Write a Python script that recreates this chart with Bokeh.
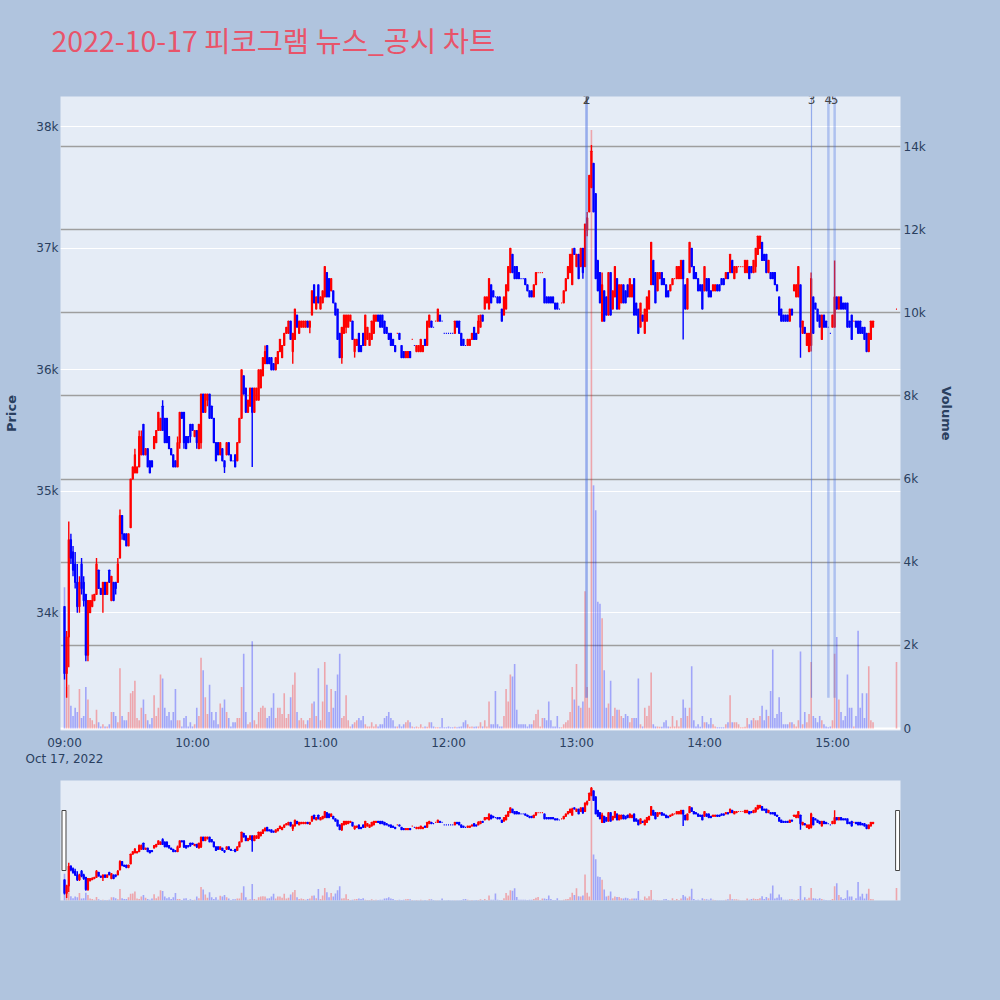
import pandas as pd
from bokeh.plotting import figure
from bokeh.models import (ColumnDataSource, Range1d, LinearAxis, FixedTicker, Grid,
                          DatetimeTickFormatter, Label, Title)
from bokeh.layouts import column
from bokeh.embed import file_html
from bokeh.resources import INLINE

# ------------------------------------------------------------------ data
chart_title = "2022-10-17 피코그램 뉴스_공시 차트"
session_start = "2022-10-17 09:00"      # first 1-minute candle
closing_auction = "2022-10-17 15:30"    # single closing-auction candle
date_label = "Oct 17, 2022"

open_ = [
    34050, 33500, 33800, 34600, 34500, 34400, 34250, 34050, 34400, 34250,
    34150, 33650, 34000, 34050, 34100, 34150, 34350, 34200, 34150, 34250,
    34150, 34350, 34100, 34250, 34250, 34250, 34450, 34800, 34650, 34650,
    34550, 34700, 35100, 35150, 35150, 35200, 35300, 35550, 35300, 35350,
    35250, 35250, 35350, 35400, 35500, 35500, 35700, 35600, 35600, 35450,
    35350, 35300, 35250, 35200, 35400, 35650, 35650, 35450, 35450, 35550,
    35550, 35450, 35500, 35350, 35400, 35800, 35650, 35750, 35800, 35700,
    35600, 35400, 35400, 35300, 35350, 35250, 35300, 35400, 35300, 35250,
    35300, 35250, 35400, 35600, 35950, 35850, 35650, 35700, 35850, 35650,
    35750, 35750, 35850, 35950, 36050, 36200, 36100, 36100, 36050, 36000,
    36050, 36150, 36100, 36200, 36300, 36300, 36400, 36150, 36250, 36450,
    36300, 36350, 36350, 36350, 36400, 36350, 36450, 36700, 36500, 36700,
    36500, 36550, 36600, 36800, 36750, 36650, 36650, 36550, 36500, 36300,
    36100, 36300, 36350, 36350, 36400, 36400, 36150, 36200, 36300, 36200,
    36300, 36200, 36250, 36200, 36250, 36300, 36400, 36450, 36450, 36450,
    36400, 36350, 36300, 36300, 36250, 36200, 36300, 36300, 36200, 36150,
    36100, 36100, 36150, 36250, 36200, 36150, 36150, 36150, 36150, 36250,
    36200, 36350, 36400, 36350, 36400, 36400, 36450, 36400, 36300, 36300,
    36300, 36300, 36300, 36300, 36400, 36400, 36300, 36250, 36200, 36200,
    36200, 36250, 36350, 36300, 36300, 36350, 36450, 36500, 36550, 36500,
    36700, 36650, 36600, 36600, 36600, 36500, 36450, 36500, 36650, 36800,
    36950, 36850, 36850, 36800, 36750, 36750, 36750, 36700, 36650, 36650,
    36600, 36700, 36800, 36800, 36800, 36750, 36600, 36600, 36600, 36600,
    36550, 36550, 36500, 36550, 36550, 36650, 36750, 36800, 36700, 37000,
    36850, 36950, 36850, 37000, 36850, 37150, 37300, 37500, 37700, 37450,
    36900, 36800, 36400, 36650, 36600, 36450, 36800, 36500, 36600, 36750,
    36500, 36550, 36700, 36650, 36700, 36600, 36600, 36750, 36550, 36500,
    36350, 36450, 36300, 36400, 36500, 36700, 36900, 36800, 36650, 36750,
    36800, 36750, 36700, 36650, 36650, 36700, 36750, 36750, 36750, 36750,
    36900, 36700, 36500, 36800, 37000, 36850, 36800, 36750, 36700, 36700,
    36650, 36750, 36750, 36650, 36650, 36650, 36700, 36700, 36750, 36750,
    36750, 36800, 36800, 36900, 36750, 36800, 36850, 36850, 36850, 36800,
    36800, 36850, 36850, 36800, 36850, 36950, 37000, 37050, 36950, 36950,
    36800, 36800, 36800, 36800, 36700, 36600, 36500, 36450, 36450, 36450,
    36400, 36500, 36650, 36600, 36600, 36700, 36300, 36350, 36200, 36150,
    36200, 36600, 36550, 36500, 36450, 36250, 36450, 36400, 36350, 36300,
    36350, 36350, 36600, 36500, 36600, 36550, 36550, 36550, 36400, 36450,
    36400, 36400, 36400, 36400, 36350, 36350, 36300, 36150, 36250, 36350,
    36500,
]
high = [
    34050, 33850, 34750, 34650, 34550, 34500, 34400, 34300, 34450, 34300,
    34150, 34100, 34100, 34150, 34150, 34450, 34350, 34200, 34250, 34250,
    34250, 34350, 34300, 34250, 34250, 34450, 34850, 34800, 34650, 34650,
    34650, 35100, 35200, 35350, 35200, 35500, 35500, 35550, 35350, 35350,
    35250, 35250, 35450, 35500, 35650, 35600, 35750, 35600, 35600, 35450,
    35350, 35300, 35250, 35450, 35650, 35650, 35650, 35450, 35450, 35550,
    35550, 35500, 35500, 35550, 35800, 35800, 35800, 35800, 35800, 35700,
    35600, 35400, 35400, 35400, 35350, 35250, 35400, 35400, 35300, 35250,
    35300, 35400, 35600, 36000, 35950, 35850, 35750, 35850, 35850, 35850,
    35850, 36000, 36000, 36100, 36200, 36200, 36100, 36100, 36050, 36100,
    36150, 36250, 36200, 36300, 36350, 36400, 36400, 36300, 36500, 36450,
    36400, 36400, 36400, 36400, 36400, 36400, 36650, 36700, 36600, 36700,
    36600, 36650, 36850, 36800, 36750, 36750, 36650, 36550, 36500, 36300,
    36350, 36450, 36450, 36450, 36450, 36400, 36250, 36250, 36300, 36200,
    36300, 36450, 36350, 36300, 36400, 36450, 36450, 36450, 36450, 36450,
    36400, 36350, 36300, 36300, 36250, 36200, 36300, 36300, 36200, 36150,
    36150, 36150, 36150, 36250, 36200, 36200, 36200, 36250, 36200, 36250,
    36400, 36450, 36400, 36350, 36400, 36500, 36450, 36400, 36300, 36300,
    36300, 36300, 36300, 36400, 36400, 36400, 36300, 36250, 36200, 36250,
    36250, 36300, 36350, 36300, 36450, 36450, 36450, 36600, 36600, 36750,
    36700, 36650, 36600, 36600, 36600, 36500, 36600, 36700, 36850, 37000,
    36950, 36850, 36850, 36800, 36750, 36750, 36750, 36700, 36650, 36650,
    36700, 36800, 36800, 36800, 36800, 36750, 36600, 36600, 36600, 36600,
    36550, 36550, 36500, 36550, 36650, 36750, 36850, 36950, 37000, 37000,
    36950, 36950, 37000, 37000, 37200, 37300, 37600, 37850, 37700, 37450,
    36900, 36800, 36800, 36650, 36600, 36800, 36800, 36650, 36850, 36750,
    36700, 36700, 36700, 36650, 36700, 36750, 36700, 36750, 36550, 36500,
    36550, 36450, 36500, 36600, 36650, 37050, 36900, 36800, 36800, 36800,
    36800, 36750, 36700, 36650, 36700, 36750, 36750, 36850, 36850, 36900,
    36900, 36700, 36750, 37050, 37000, 36850, 36800, 36750, 36700, 36700,
    36850, 36750, 36750, 36650, 36700, 36700, 36700, 36700, 36750, 36750,
    36800, 36800, 36950, 36900, 36850, 36850, 36850, 36850, 36850, 36900,
    36900, 36850, 36850, 36900, 37000, 37100, 37100, 37050, 36950, 36950,
    36900, 36800, 36800, 36800, 36700, 36600, 36500, 36450, 36450, 36450,
    36500, 36500, 36700, 36700, 36850, 36700, 36400, 36350, 36300, 36300,
    36800, 36600, 36550, 36500, 36450, 36450, 36450, 36400, 36350, 36300,
    36450, 36900, 36600, 36600, 36600, 36550, 36550, 36550, 36400, 36450,
    36400, 36400, 36400, 36400, 36350, 36350, 36300, 36300, 36400, 36400,
    36500,
]
low = [
    33450, 33300, 33550, 34400, 34300, 34200, 34000, 34000, 34150, 34050,
    33600, 33600, 34000, 34050, 34100, 34150, 34200, 34150, 34000, 34150,
    34150, 34250, 34100, 34100, 34150, 34250, 34450, 34600, 34600, 34550,
    34550, 34700, 35100, 35150, 35150, 35200, 35300, 35300, 35300, 35200,
    35150, 35200, 35350, 35400, 35500, 35500, 35500, 35400, 35400, 35350,
    35300, 35200, 35200, 35200, 35350, 35600, 35350, 35350, 35400, 35400,
    35500, 35450, 35350, 35350, 35350, 35650, 35650, 35700, 35600, 35600,
    35400, 35250, 35300, 35300, 35250, 35150, 35300, 35300, 35250, 35250,
    35200, 35250, 35400, 35600, 35800, 35650, 35650, 35700, 35200, 35650,
    35750, 35750, 35850, 35950, 36050, 36050, 36050, 36000, 36000, 36000,
    36050, 36150, 36100, 36200, 36300, 36300, 36250, 36050, 36250, 36350,
    36300, 36350, 36350, 36350, 36350, 36300, 36450, 36550, 36500, 36550,
    36500, 36550, 36600, 36600, 36600, 36650, 36550, 36450, 36250, 36100,
    36050, 36300, 36300, 36350, 36400, 36250, 36100, 36200, 36150, 36150,
    36200, 36200, 36250, 36200, 36250, 36300, 36400, 36400, 36350, 36350,
    36300, 36300, 36250, 36200, 36200, 36150, 36300, 36250, 36100, 36100,
    36100, 36100, 36100, 36250, 36200, 36150, 36150, 36150, 36150, 36200,
    36200, 36350, 36350, 36350, 36400, 36400, 36400, 36400, 36300, 36300,
    36300, 36300, 36300, 36300, 36350, 36300, 36200, 36200, 36200, 36200,
    36200, 36250, 36250, 36250, 36300, 36350, 36400, 36500, 36550, 36500,
    36550, 36600, 36600, 36550, 36550, 36400, 36450, 36500, 36650, 36800,
    36800, 36750, 36750, 36750, 36750, 36750, 36700, 36650, 36600, 36600,
    36600, 36700, 36800, 36800, 36800, 36550, 36550, 36550, 36550, 36550,
    36500, 36500, 36500, 36550, 36550, 36650, 36750, 36800, 36700, 36950,
    36850, 36750, 36850, 36750, 36850, 37100, 37300, 37500, 37300, 36750,
    36650, 36550, 36400, 36400, 36450, 36450, 36450, 36500, 36600, 36500,
    36500, 36550, 36550, 36550, 36600, 36600, 36600, 36450, 36450, 36300,
    36350, 36400, 36300, 36400, 36500, 36700, 36700, 36550, 36650, 36750,
    36700, 36700, 36600, 36600, 36650, 36700, 36750, 36750, 36750, 36750,
    36250, 36500, 36500, 36800, 36850, 36750, 36750, 36650, 36650, 36500,
    36650, 36650, 36600, 36600, 36650, 36650, 36650, 36650, 36700, 36700,
    36750, 36750, 36800, 36800, 36750, 36800, 36850, 36850, 36850, 36800,
    36800, 36750, 36800, 36800, 36800, 36950, 37000, 36900, 36900, 36800,
    36800, 36750, 36750, 36700, 36650, 36450, 36400, 36400, 36400, 36400,
    36400, 36450, 36650, 36600, 36600, 36100, 36300, 36300, 36200, 36150,
    36150, 36300, 36500, 36400, 36350, 36250, 36350, 36350, 36350, 36300,
    36350, 36350, 36500, 36500, 36500, 36500, 36500, 36350, 36350, 36250,
    36400, 36350, 36300, 36300, 36300, 36250, 36150, 36150, 36250, 36350,
    36500,
]
close = [
    33500, 33800, 34600, 34450, 34350, 34250, 34050, 34250, 34200, 34100,
    33650, 34100, 34100, 34100, 34150, 34400, 34200, 34150, 34250, 34150,
    34250, 34250, 34300, 34100, 34200, 34400, 34800, 34650, 34600, 34550,
    34650, 35100, 35200, 35300, 35200, 35450, 35450, 35300, 35350, 35200,
    35150, 35200, 35450, 35500, 35650, 35600, 35500, 35400, 35400, 35350,
    35300, 35200, 35200, 35400, 35650, 35600, 35400, 35350, 35400, 35450,
    35500, 35500, 35400, 35550, 35800, 35650, 35800, 35800, 35600, 35600,
    35400, 35250, 35300, 35400, 35250, 35200, 35400, 35300, 35250, 35250,
    35200, 35400, 35600, 36000, 35800, 35650, 35750, 35850, 35650, 35850,
    35850, 36000, 36000, 36100, 36150, 36050, 36050, 36000, 36000, 36100,
    36150, 36250, 36200, 36300, 36350, 36400, 36250, 36300, 36500, 36350,
    36400, 36400, 36400, 36400, 36350, 36400, 36650, 36550, 36600, 36550,
    36600, 36650, 36850, 36600, 36600, 36750, 36550, 36450, 36250, 36100,
    36350, 36450, 36450, 36450, 36450, 36250, 36250, 36250, 36150, 36150,
    36200, 36450, 36350, 36300, 36400, 36450, 36450, 36400, 36350, 36350,
    36300, 36300, 36250, 36200, 36200, 36150, 36300, 36250, 36100, 36100,
    36150, 36150, 36100, 36250, 36200, 36200, 36200, 36250, 36200, 36200,
    36400, 36450, 36350, 36350, 36400, 36500, 36400, 36400, 36300, 36300,
    36300, 36300, 36300, 36400, 36350, 36300, 36200, 36200, 36200, 36250,
    36250, 36300, 36250, 36250, 36400, 36450, 36400, 36600, 36600, 36750,
    36550, 36600, 36600, 36550, 36550, 36400, 36600, 36700, 36850, 37000,
    36800, 36750, 36750, 36750, 36750, 36750, 36700, 36650, 36600, 36600,
    36700, 36800, 36800, 36800, 36800, 36550, 36550, 36550, 36550, 36550,
    36500, 36500, 36500, 36550, 36650, 36750, 36850, 36950, 36950, 36950,
    36950, 36750, 37000, 36800, 37200, 37250, 37600, 37800, 37300, 36750,
    36650, 36550, 36700, 36400, 36450, 36800, 36450, 36650, 36850, 36500,
    36700, 36700, 36550, 36550, 36600, 36750, 36700, 36450, 36450, 36300,
    36550, 36400, 36500, 36600, 36650, 37050, 36700, 36550, 36800, 36800,
    36700, 36700, 36600, 36600, 36700, 36750, 36750, 36850, 36850, 36900,
    36750, 36500, 36750, 37050, 36850, 36750, 36750, 36650, 36650, 36500,
    36850, 36650, 36600, 36600, 36700, 36700, 36650, 36650, 36700, 36700,
    36800, 36750, 36950, 36800, 36850, 36850, 36850, 36850, 36850, 36900,
    36900, 36750, 36800, 36900, 37000, 37100, 37100, 36900, 36900, 36800,
    36900, 36750, 36750, 36700, 36650, 36450, 36400, 36400, 36400, 36400,
    36500, 36450, 36700, 36700, 36850, 36350, 36400, 36300, 36300, 36300,
    36750, 36300, 36500, 36400, 36350, 36450, 36350, 36350, 36350, 36300,
    36450, 36600, 36500, 36600, 36500, 36500, 36500, 36350, 36350, 36250,
    36400, 36350, 36300, 36300, 36300, 36250, 36150, 36300, 36400, 36400,
    36500,
]
volume = [
    3400, 1000, 1050, 550, 300, 500, 400, 950, 250, 300,
    1000, 700, 250, 200, 100, 450, 150, 50, 100, 50,
    50, 100, 400, 400, 300, 150, 1450, 300, 200, 200,
    400, 850, 900, 1150, 250, 200, 500, 700, 350, 200,
    100, 250, 800, 300, 500, 1300, 1200, 500, 300, 400,
    200, 400, 950, 200, 200, 50, 250, 300, 50, 150,
    50, 100, 500, 300, 1700, 1400, 750, 350, 1050, 400,
    200, 400, 100, 600, 500, 700, 400, 250, 50, 150,
    150, 250, 250, 1000, 1800, 400, 100, 150, 2100, 200,
    100, 400, 500, 550, 500, 250, 300, 500, 850, 250,
    500, 500, 350, 850, 250, 350, 750, 1050, 1350, 400,
    200, 250, 200, 100, 200, 250, 600, 650, 300, 1450,
    200, 650, 1600, 1050, 400, 950, 500, 900, 1300, 1800,
    250, 300, 800, 200, 50, 100, 150, 200, 250, 200,
    300, 100, 50, 50, 150, 50, 100, 50, 100, 100,
    250, 300, 400, 250, 200, 50, 50, 100, 50, 100,
    150, 200, 150, 50, 30, 50, 30, 100, 30, 50,
    40, 150, 150, 50, 30, 30, 30, 250, 30, 30,
    50, 30, 30, 40, 30, 40, 50, 150, 200, 100,
    40, 50, 40, 50, 50, 150, 50, 200, 50, 650,
    100, 100, 900, 100, 50, 50, 300, 950, 650, 1300,
    1250, 1550, 450, 100, 100, 100, 100, 50, 100, 100,
    200, 350, 450, 50, 250, 250, 200, 650, 200, 50,
    50, 300, 30, 30, 100, 150, 200, 400, 1000, 700,
    1550, 550, 500, 650, 3300, 1000, 500, 14400, 5850, 5250,
    3050, 3000, 2650, 1400, 500, 600, 1150, 300, 500, 450,
    450, 300, 250, 350, 300, 150, 250, 250, 250, 1200,
    100, 50, 500, 300, 550, 1350, 100, 50, 50, 40,
    40, 150, 200, 50, 40, 300, 50, 200, 50, 250,
    700, 500, 300, 500, 1500, 200, 50, 100, 40, 300,
    150, 150, 100, 250, 100, 50, 30, 30, 30, 30,
    100, 150, 800, 150, 150, 150, 100, 30, 30, 40,
    250, 100, 200, 250, 200, 200, 300, 550, 200, 450,
    300, 900, 1900, 250, 350, 750, 400, 100, 100, 100,
    150, 150, 100, 50, 200, 1850, 100, 400, 150, 350,
    1600, 300, 250, 150, 300, 200, 100, 50, 30, 50,
    200, 1800, 2200, 700, 400, 200, 300, 1300, 500, 500,
    50, 300, 2350, 500, 850, 250, 850, 1500, 200, 150,
    1600,
]

news_times = ["2022-10-17 13:04:40", "2022-10-17 13:04:45", "2022-10-17 14:50:10",
              "2022-10-17 14:58:05", "2022-10-17 15:01:00"]
news_labels = ["1", "2", "3", "4", "5"]

price_ticks = [34000, 35000, 36000, 37000, 38000]
price_tick_labels = ["34k", "35k", "36k", "37k", "38k"]
volume_ticks = [0, 2000, 4000, 6000, 8000, 10000, 12000, 14000]
volume_tick_labels = ["0", "2k", "4k", "6k", "8k", "10k", "12k", "14k"]
hour_ticks = ["09:00", "10:00", "11:00", "12:00", "13:00", "14:00", "15:00"]

# ------------------------------------------------------------------ helpers
MIN = 60000.0
def to_ms(s):
    return pd.Timestamp(s).value / 1e6

t0 = to_ms(session_start)
times = [t0 + i * MIN for i in range(len(open_) - 1)] + [to_ms(closing_auction)]

INC, DEC = "#ff0000", "#0000ff"
colors = []
prev_c, prev_col = None, DEC
for o, c in zip(open_, close):
    if c > o:
        col = INC
    elif c < o:
        col = DEC
    elif prev_c is not None and c > prev_c:
        col = INC
    elif prev_c is not None and c < prev_c:
        col = DEC
    else:
        col = prev_col
    colors.append(col)
    prev_c, prev_col = c, col

src = ColumnDataSource(dict(
    t=times, o=open_, h=high, l=low, c=close, v=volume, color=colors,
    top=[max(a, b) for a, b in zip(open_, close)],
    bot=[min(a, b) for a, b in zip(open_, close)],
))

BG = "#b0c4de"
PLOT_BG = "#e5ecf6"
TXT = "#2a3f5f"
FONT = "DejaVu Sans"
W = 1000
LB, RB = 60, 100          # frame borders shared by all stacked figures
X_RANGE = (t0 - 1.875 * MIN, t0 + 391.88 * MIN)
BG_STYLE = {"background-color": BG}

def draw_series(fig):
    fig.vbar(x="t", width=0.75 * MIN, top="v", bottom=0, y_range_name="vol",
             fill_color="color", fill_alpha=0.3, line_color=None, source=src)
    fig.segment(x0="t", y0="l", x1="t", y1="h", line_color="color",
                line_width=1.4, source=src)
    fig.vbar(x="t", width=0.5 * MIN, top="top", bottom="bot", fill_color="color",
             line_color="color", line_width=1.2, source=src)

# ------------------------------------------------------------------ header (title)
hdr = figure(width=W, height=86, output_backend="svg", toolbar_location=None,
             x_range=Range1d(*X_RANGE), y_range=Range1d(0, 1),
             x_axis_location=None, y_axis_location=None,
             min_border_left=LB, min_border_right=RB, min_border_top=0, min_border_bottom=0)
hdr.title = Title(text=chart_title, align="left", offset=-9, vertical_align="middle",
                  standoff=34, text_font="Noto Sans CJK KR", text_font_size="28.5px",
                  text_font_style="normal", text_color="#e8546a")
hdr.background_fill_color = BG
hdr.border_fill_color = BG
hdr.outline_line_color = None
hdr.xgrid.visible = False
hdr.ygrid.visible = False
hdr.styles = BG_STYLE

# ------------------------------------------------------------------ main chart
P_LO, P_HI = 33030, 38250
p = figure(width=W, height=684, x_axis_type="datetime", output_backend="svg",
           toolbar_location=None, x_range=Range1d(*X_RANGE), y_range=Range1d(P_LO, P_HI),
           min_border_left=LB, min_border_right=RB, min_border_top=10, min_border_bottom=40)
p.background_fill_color = PLOT_BG
p.border_fill_color = BG
p.outline_line_color = None
p.styles = BG_STYLE
p.extra_y_ranges = {"vol": Range1d(-48, 15203)}

p.xgrid.visible = False
p.ygrid.ticker = FixedTicker(ticks=price_ticks)
p.ygrid.grid_line_color = "white"
p.ygrid.grid_line_width = 1
p.add_layout(Grid(dimension=1, ticker=FixedTicker(ticks=volume_ticks[1:]), y_range_name="vol",
                  grid_line_color="#9e9e9e", grid_line_width=1.5))
p.add_layout(Grid(dimension=1, ticker=FixedTicker(ticks=[0]), y_range_name="vol",
                  grid_line_color="white", grid_line_width=2))

def style_axis(ax):
    ax.axis_line_color = None
    ax.major_tick_line_color = None
    ax.minor_tick_line_color = None
    ax.major_tick_out = 0
    ax.minor_tick_out = 0
    ax.major_label_text_font = FONT
    ax.major_label_text_font_size = "12px"
    ax.major_label_text_color = TXT
    ax.axis_label_text_font = FONT
    ax.axis_label_text_font_size = "13px"
    ax.axis_label_text_font_style = "bold"
    ax.axis_label_text_color = TXT

hour_ms = [to_ms("2022-10-17 " + h) for h in hour_ticks]
xax = p.xaxis[0]
style_axis(xax)
xax.ticker = FixedTicker(ticks=hour_ms)
xax.formatter = DatetimeTickFormatter(milliseconds="%H:%M", seconds="%H:%M", minsec="%H:%M",
                                      minutes="%H:%M", hourmin="%H:%M", hours="%H:%M",
                                      days="%H:%M", months="%H:%M", years="%H:%M")
xax.major_label_overrides = {hour_ms[0]: hour_ticks[0] + "\n" + date_label}
xax.major_label_standoff = 5

yax = p.yaxis[0]
style_axis(yax)
yax.ticker = FixedTicker(ticks=price_ticks)
yax.major_label_overrides = dict(zip(price_ticks, price_tick_labels))
yax.major_label_standoff = 2
yax.axis_label = "Price"
yax.axis_label_standoff = 14

vax = LinearAxis(y_range_name="vol", ticker=FixedTicker(ticks=volume_ticks),
                 major_label_overrides=dict(zip(volume_ticks, volume_tick_labels)),
                 axis_label="Volume")
style_axis(vax)
vax.major_label_standoff = 3
vax.axis_label_standoff = 10
p.add_layout(vax, "right")

draw_series(p)

# news / disclosure markers
news_ms = [to_ms(t) for t in news_times]
nsrc = ColumnDataSource(dict(t=news_ms, y0=[min(low)] * len(news_ms), y1=[P_HI] * len(news_ms),
                             w=[2.5, 2.5, 1.2, 2.5, 2.5], a=[0.28, 0.28, 0.5, 0.33, 0.33]))
p.segment(x0="t", y0="y0", x1="t", y1="y1", line_color="#4169e1", line_width="w",
          line_alpha="a", source=nsrc)
for t, lab in zip(news_ms, news_labels):
    p.add_layout(Label(x=t, y=P_HI, y_offset=-3, text=lab, text_align="center",
                       text_baseline="middle", text_font=FONT, text_font_size="12px",
                       text_color="#444444"))

# ------------------------------------------------------------------ range slider
S_LO, S_HI = 33200, 38120
s = figure(width=W, height=230, output_backend="svg", toolbar_location=None,
           x_range=Range1d(*X_RANGE), y_range=Range1d(S_LO, S_HI),
           x_axis_location=None, y_axis_location=None,
           min_border_left=LB, min_border_right=RB, min_border_top=10, min_border_bottom=100)
s.background_fill_color = PLOT_BG
s.border_fill_color = BG
s.outline_line_color = None
s.styles = BG_STYLE
s.xgrid.visible = False
s.ygrid.visible = False
s.extra_y_ranges = {"vol": Range1d(0, 15250)}
draw_series(s)
s.rect(x=[X_RANGE[0] + 1.64 * MIN, X_RANGE[1] - 1.36 * MIN], y=[(S_LO + S_HI) / 2] * 2,
       width=4, height=60, width_units="screen", height_units="screen",
       fill_color="white", line_color="#444444", line_width=1)

layout = column(hdr, p, s, spacing=0, styles=BG_STYLE)
html = file_html(layout, INLINE, title=chart_title)
html = html.replace("<body>", '<body style="background-color:#b0c4de;">', 1)
open("out.html", "w", encoding="utf-8").write(html)
